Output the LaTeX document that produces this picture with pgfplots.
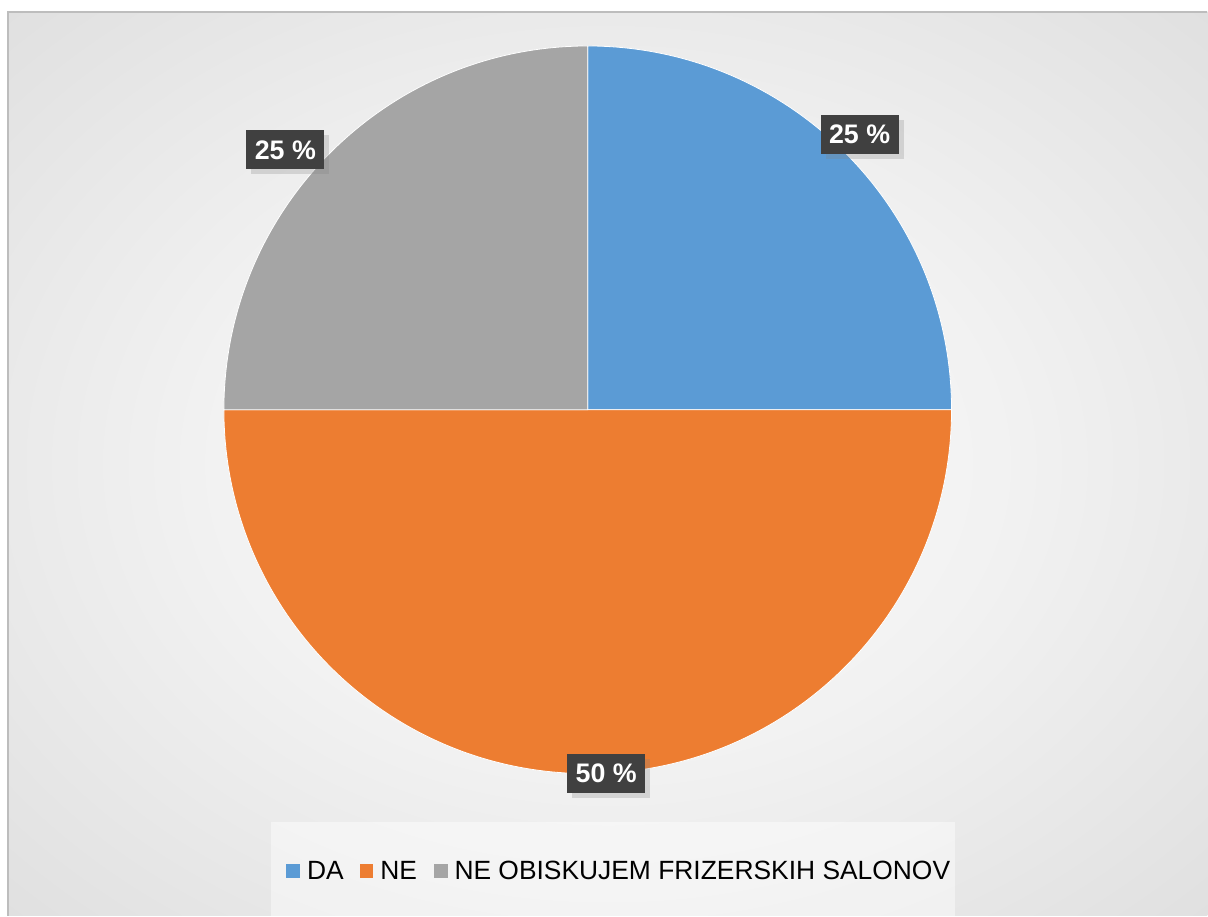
\documentclass[border=0pt]{standalone}
\usepackage{pgfplots}
\pgfplotsset{compat=1.18}
\usepackage{pgfplotstable}
\usepackage{fontspec}
\setmainfont{Liberation Sans}
\usetikzlibrary{shadows,calc}
\definecolor{cDA}{HTML}{5B9BD5}
\definecolor{cNE}{HTML}{ED7D31}
\definecolor{cNO}{HTML}{A5A5A5}
\definecolor{lblbox}{HTML}{404040}
\pgfdeclareradialshading{bgshade}{\pgfpoint{0bp}{0bp}}{color(0bp)=(white!97!black); color(16bp)=(white!95!black); color(35bp)=(white!88!black); color(50bp)=(white!82!black); color(71bp)=(white!76!black)}

\pgfplotstableread{
label value
DA 25
NE 50
NO 25
}\pietable

\begin{document}
\begin{tikzpicture}
\pgfplotstablegetelem{0}{value}\of\pietable \pgfmathsetmacro\va{\pgfplotsretval}
\pgfplotstablegetelem{1}{value}\of\pietable \pgfmathsetmacro\vb{\pgfplotsretval}
\pgfplotstablegetelem{2}{value}\of\pietable \pgfmathsetmacro\vc{\pgfplotsretval}
\pgfmathsetmacro\tot{\va+\vb+\vc}
\pgfmathsetmacro\aA{90}
\pgfmathsetmacro\aB{\aA-360*(\va/\tot)}
\pgfmathsetmacro\aC{\aB-360*(\vb/\tot)}
\pgfmathsetmacro\aD{\aC-360*(\vc/\tot)}
\begin{axis}[x=0.5pt, y=0.5pt, xmin=0, xmax=1208, ymin=0, ymax=916,
  hide axis, clip=false]
\path (axis cs:0,0) rectangle (axis cs:1208,916);
% background
\shade[shading=bgshade] (axis cs:8,0) rectangle (axis cs:1208,904);
\draw[white!74!black, line width=0.6pt] (axis cs:8,0) -- (axis cs:8,904) -- (axis cs:1208,904);
% pie
\fill[cDA, draw=white, line width=0.4pt] (axis cs:588,506) -- ++(\aA:182pt) arc[start angle=\aA, end angle=\aB, radius=182pt] -- cycle;
\fill[cNE, draw=white, line width=0.4pt] (axis cs:588,506) -- ++(\aB:182pt) arc[start angle=\aB, end angle=\aC, radius=182pt] -- cycle;
\fill[cNO, draw=white, line width=0.4pt] (axis cs:588,506) -- ++(\aC:182pt) arc[start angle=\aC, end angle=\aD, radius=182pt] -- cycle;
% data labels
\tikzset{lbl/.style={fill=lblbox, text=white, font=\fontsize{13.4}{15}\selectfont\bfseries,
  minimum width=39pt, minimum height=19.5pt, inner sep=0pt,
  drop shadow={opacity=0.25, shadow xshift=2.5pt, shadow yshift=-2.5pt}}}
\node[lbl] at (axis cs:860,781.5) {25 \%};
\node[lbl] at (axis cs:606.5,142.5) {50 \%};
\node[lbl] at (axis cs:285.5,766) {25 \%};
% legend
\fill[white, fill opacity=0.45] (axis cs:271,0) rectangle (axis cs:955,94);
\tikzset{lgtxt/.style={anchor=west, inner sep=0pt, font=\fontsize{13.2}{15}\selectfont}}
\node[fill=cDA, minimum size=7pt, inner sep=0pt, anchor=west] (s1) at (axis cs:286,45) {};
\node[lgtxt] (t1) at ($(s1.east)+(3pt,0)$) {DA};
\node[fill=cNE, minimum size=7pt, inner sep=0pt, anchor=west] (s2) at ($(t1.east)+(7.5pt,0)$) {};
\node[lgtxt] (t2) at ($(s2.east)+(3pt,0)$) {NE};
\node[fill=cNO, minimum size=7pt, inner sep=0pt, anchor=west] (s3) at ($(t2.east)+(8pt,0)$) {};
\node[lgtxt] (t3) at ($(s3.east)+(3pt,0)$) {NE OBISKUJEM FRIZERSKIH SALONOV};
\end{axis}
\end{tikzpicture}
\end{document}
